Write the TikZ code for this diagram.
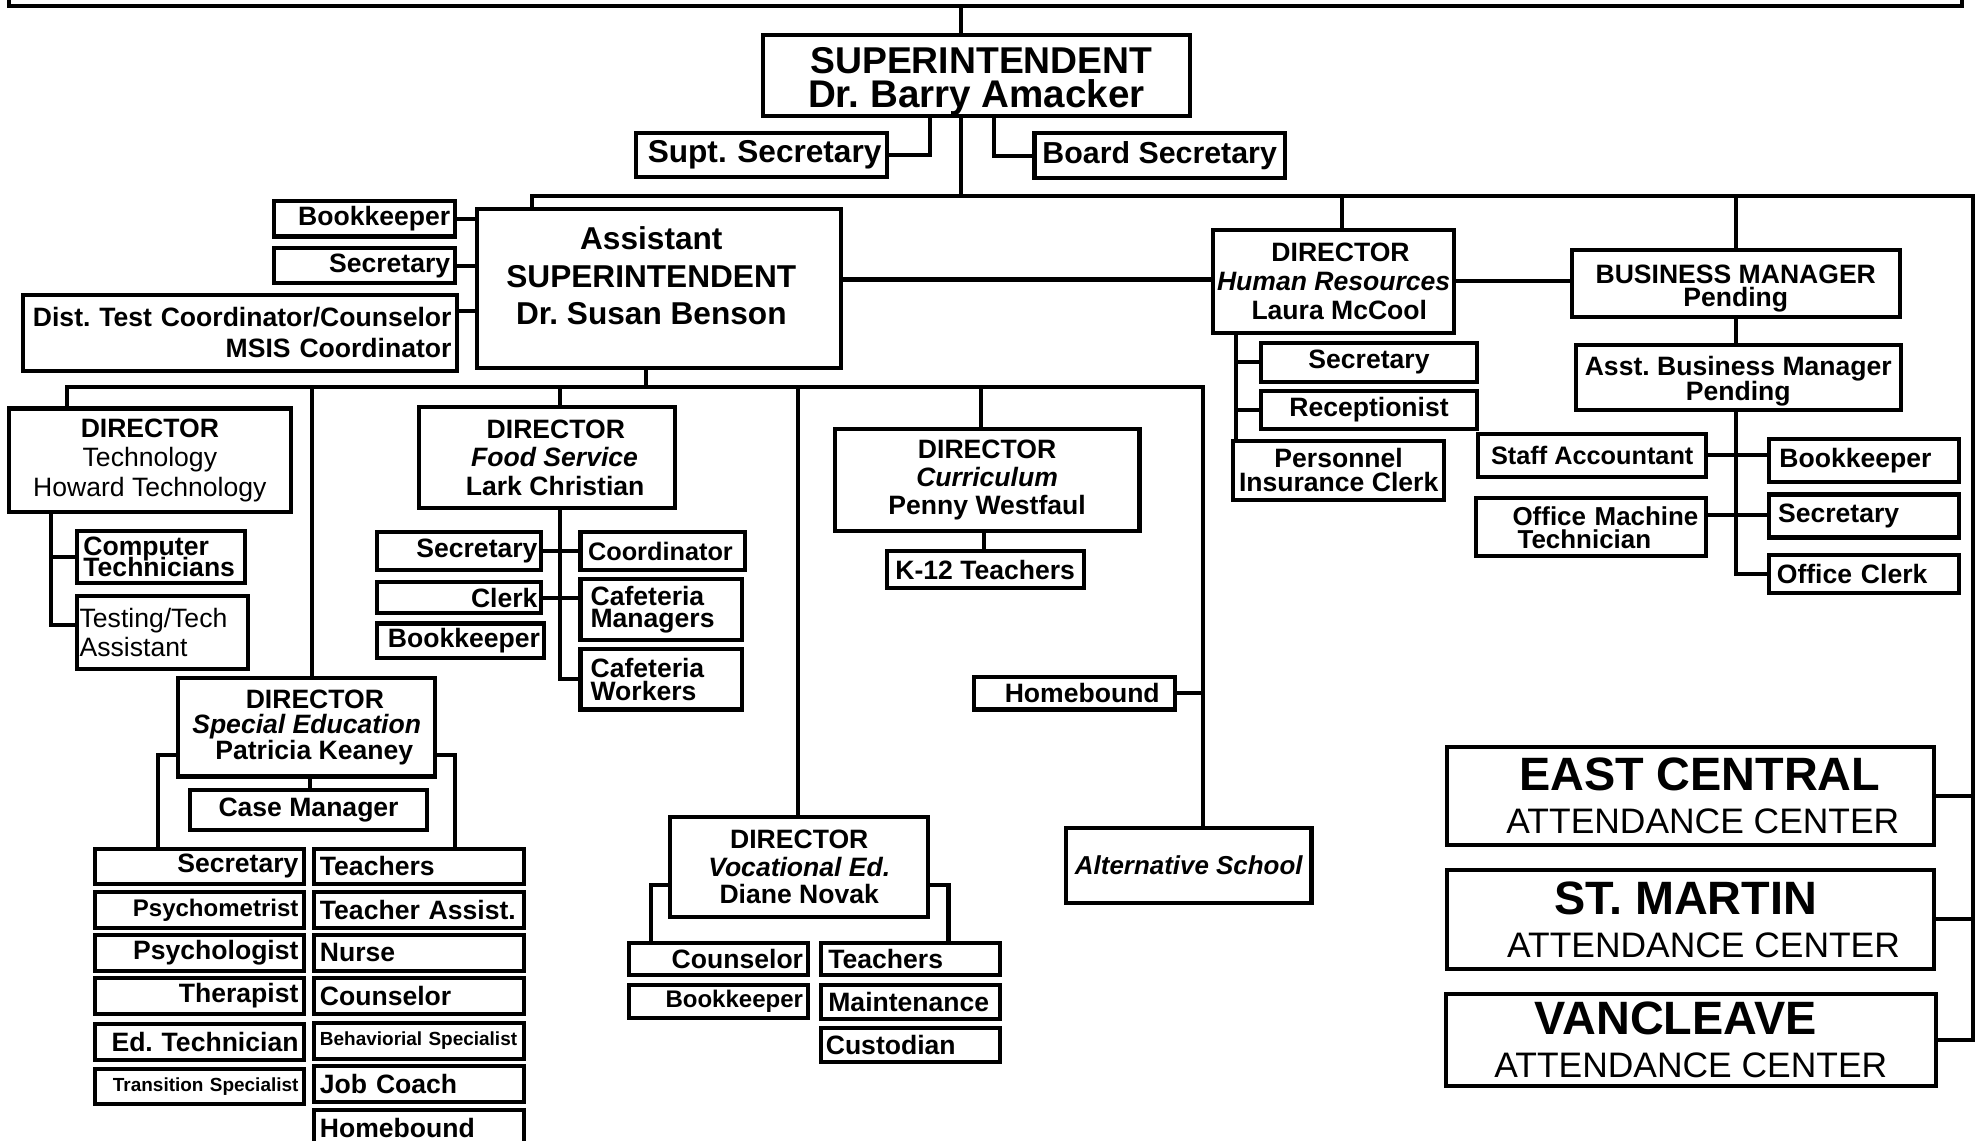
\documentclass[tikz,border=0pt]{standalone}
\usepackage{fontspec}
\setmainfont{Liberation Sans}
\frenchspacing
\newcommand\setsz[2]{\fontsize{#1}{#2}\selectfont\lineskiplimit=-100pt\relax}
\begin{document}
\begin{tikzpicture}[x=1pt,y=-1pt,line width=3.2pt,
    box/.style={draw,line width=3.2pt,inner sep=0pt,align=center,font=\setsz{21}{21}\bfseries}]
  \useasboundingbox (0,0) rectangle (1568,902);

  \node[box,minimum width=1544,minimum height=45] (board) at (779,-17.5) {};
  \node[box,minimum width=338,minimum height=63,font=\setsz{29.5}{27}\bfseries] (sup) at (772,59.5)
    {\rule{0pt}{31pt}\hspace*{8pt}SUPERINTENDENT\\{\setsz{30.5}{27}Dr. Barry Amacker}};
  \node[box,minimum width=198,minimum height=35,text width=190,align=right,font=\setsz{25}{25}\bfseries] (supsec) at (602,122.5) {Supt. Secretary};
  \node[box,minimum width=198,minimum height=36,font=\setsz{24}{24}\bfseries] (brdsec) at (917,123) {Board Secretary};

  \node[box,minimum width=288,minimum height=126] (asup) at (521,228) {};
  \node[font=\setsz{25}{29.5}\bfseries,align=center] (asuptxt) at (515,218) {Assistant\\SUPERINTENDENT\\Dr. Susan Benson};
  \node[box,minimum width=143,minimum height=28,text width=135,align=right] (abook) at (288.5,173) {Bookkeeper};
  \node[box,minimum width=143,minimum height=28,text width=135,align=right] (asec) at (288.5,210) {Secretary};
  \node[box,minimum width=343,minimum height=60,text width=335,align=right,font=\setsz{21}{25}\bfseries] (atest) at (189.5,263)
    {Dist. Test Coordinator/Counselor\\MSIS Coordinator};

  \node[box,minimum width=191,minimum height=81,font=\setsz{21}{23}\bfseries] (hr) at (1054.5,222.5)
    {\hspace*{11pt}DIRECTOR\\\textit{Human Resources}\\\hspace*{9pt}Laura McCool};
  \node[box,minimum width=171,minimum height=31] (hrsec) at (1082.5,286.5) {Secretary};
  \node[box,minimum width=171,minimum height=30] (recep) at (1082.5,324) {Receptionist};
  \node[box,minimum width=167,minimum height=46,font=\setsz{21}{19}\bfseries] (pic) at (1058.5,372) {Personnel\\Insurance Clerk};

  \node[box,minimum width=259,minimum height=53,font=\setsz{21}{18}\bfseries] (bm) at (1372.5,224.5) {\rule{0pt}{22pt}BUSINESS MANAGER\\Pending};
  \node[box,minimum width=257,minimum height=51,font=\setsz{21}{20}\bfseries] (abm) at (1374.5,298.5) {\rule{0pt}{21pt}Asst. Business Manager\\Pending};
  \node[box,minimum width=180,minimum height=34,font=\setsz{20}{20}\bfseries] (staffacc) at (1259,360) {Staff Accountant};
  \node[box,minimum width=182,minimum height=46,text width=174,align=left,font=\setsz{20.5}{18}\bfseries] (omt) at (1258,417)
    {\hspace*{25pt}Office Machine\\\hspace*{29pt}Technician};
  \node[box,minimum width=150,minimum height=34,text width=134,align=left] (bmbook) at (1474,364) {Bookkeeper};
  \node[box,minimum width=150,minimum height=34,text width=136,align=left] (bmsec) at (1474,408) {Secretary};
  \node[box,minimum width=150,minimum height=30,text width=138,align=left] (offclerk) at (1474,454) {Office Clerk};

  \node[box,minimum width=223,minimum height=82,font=\setsz{21}{23.5}] (tech) at (118.5,364) {\textbf{DIRECTOR}\\Technology\\Howard Technology};
  \node[box,minimum width=133,minimum height=41,text width=123,align=left,font=\setsz{21}{16.5}\bfseries] (comptech) at (127.5,440.5) {Computer\\Technicians};
  \node[box,minimum width=135,minimum height=58,text width=131,align=left,font=\setsz{21}{23}] (testing) at (128.5,500) {Testing/Tech\\Assistant};

  \node[box,minimum width=203,minimum height=80,font=\setsz{21}{22.5}\bfseries] (food) at (432.5,362)
    {\hspace*{14pt}DIRECTOR\\\hspace*{12pt}\textit{Food Service}\\\hspace*{13pt}Lark Christian};
  \node[box,minimum width=130,minimum height=30,text width=124,align=right] (fsec) at (363,436) {Secretary};
  \node[box,minimum width=130,minimum height=25,text width=124,align=right] (fclerk) at (363,472.5) {Clerk};
  \node[box,minimum width=132,minimum height=27,text width=126,align=right] (fbook) at (364,506.5) {Bookkeeper};
  \node[box,minimum width=130,minimum height=30,text width=118,align=left,font=\setsz{20}{20}\bfseries] (coord) at (524,436) {Coordinator};
  \node[box,minimum width=128,minimum height=48,text width=112,align=left,font=\setsz{21}{18}\bfseries] (cafman) at (523,482) {Cafeteria\\Managers};
  \node[box,minimum width=128,minimum height=48,text width=112,align=left,font=\setsz{21}{18}\bfseries] (cafwork) at (523,537) {Cafeteria\\Workers};

  \node[box,minimum width=241,minimum height=81,font=\setsz{21}{22.5}\bfseries] (curr) at (780.5,379.5) {DIRECTOR\\\textit{Curriculum}\\Penny Westfaul};
  \node[box,minimum width=156,minimum height=29] (k12) at (779,450.5) {K-12 Teachers};
  \node[box,minimum width=159,minimum height=26,text width=135,align=right] (hmbd) at (849.5,548) {Homebound};
  \node[box,minimum width=194,minimum height=59,font=\setsz{20.5}{21}\bfseries\itshape] (alt) at (940,684.5) {Alternative School};

  \node[box,minimum width=203,minimum height=78,font=\setsz{21}{20}\bfseries] (sped) at (242.5,575)
    {\hspace*{13pt}DIRECTOR\\\textit{Special Education}\\\hspace*{12pt}Patricia Keaney};
  \node[box,minimum width=188,minimum height=31] (caseman) at (244,640.5) {Case Manager};
  \foreach \k/\yc/\fsz/\txt in {1/685/21/Secretary,2/719.5/19/Psychometrist,3/753.5/21/Psychologist,
      4/787.5/21/Therapist,5/824/21/Ed. Technician,6/859/15/Transition Specialist}
    \node[box,minimum width=165,minimum height=28,text width=157,align=right,font=\setsz{\fsz}{\fsz}\bfseries] (sl\k) at (157.5,\yc) {\txt};
  \foreach \k/\yc/\fsz/\txt in {1/685/21/Teachers,2/719.5/21/Teacher Assist.,3/753.5/21/Nurse,4/787.5/21/Counselor,
      5/823/15/Behaviorial Specialist,6/857/21/Job Coach,7/892/21/Homebound}
    \node[box,minimum width=166,minimum height=28,text width=156,align=left,font=\setsz{\fsz}{\fsz}\bfseries] (sr\k) at (331,\yc) {\txt};

  \node[box,minimum width=204,minimum height=79,font=\setsz{21}{22}\bfseries] (voc) at (632,685.5) {DIRECTOR\\\textit{Vocational Ed.}\\Diane Novak};
  \node[box,minimum width=142,minimum height=25,text width=134,align=right] (vcouns) at (568,758.5) {Counselor};
  \node[box,minimum width=142,minimum height=26,text width=134,align=right,font=\setsz{19}{19}\bfseries] (vbook) at (568,792) {Bookkeeper};
  \node[box,minimum width=142,minimum height=25,text width=130,align=left] (vteach) at (720,758.5) {Teachers};
  \node[box,minimum width=142,minimum height=27,text width=130,align=left] (maint) at (720,792.5) {Maintenance};
  \node[box,minimum width=142,minimum height=27,text width=134,align=left] (cust) at (720,826.5) {Custodian};

  \node[box,minimum width=385,minimum height=77,font=\setsz{37}{34}\bfseries] (ec) at (1336.5,629.5)
    {\hspace*{15pt}EAST CENTRAL\\{\setsz{28}{34}\mdseries\hspace*{20pt}ATTENDANCE CENTER}};
  \node[box,minimum width=385,minimum height=78,font=\setsz{37}{34}\bfseries] (sm) at (1336.5,727)
    {ST. MARTIN\hspace*{7pt}\\{\setsz{28}{34}\mdseries\hspace*{21pt}ATTENDANCE CENTER}};
  \node[box,minimum width=388,minimum height=73,font=\setsz{37}{34}\bfseries] (vc) at (1337,822.5)
    {VANCLEAVE\hspace*{24pt}\\{\setsz{28}{34}\mdseries ATTENDANCE CENTER}};

  \draw (760,0 |- board.south) -- (760,0 |- sup.north);
  \draw (760,0 |- sup.south) -- (760,155);
  \draw (735,0 |- sup.south) |- (supsec.east);
  \draw (786,0 |- sup.south) |- (brdsec.west);
  \draw (421,0 |- asup.north) |- (1560,155) |- (vc.east);
  \draw (1061,155) -- (1061,0 |- hr.north);
  \draw (1373,155) -- (1373,0 |- bm.north);
  \draw (ec.east) -- (1560,0 |- ec.east);
  \draw (sm.east) -- (1560,0 |- sm.east);
  \draw (abook.east) -- (asup.west |- abook.east);
  \draw (asec.east) -- (asup.west |- asec.east);
  \draw (atest.east |- 0,246) -- (asup.west |- 0,246);
  \draw (asup.east |- 0,221) -- (hr.west |- 0,221);
  \draw (hr.east |- 0,222) -- (bm.west |- 0,222);
  \draw (1373,0 |- bm.south) -- (1373,0 |- abm.north);
  \draw (1373,0 |- abm.south) |- (offclerk.west);
  \draw (staffacc.east) -- (bmbook.west |- staffacc.east);
  \draw (omt.east |- 0,407) -- (bmsec.west |- 0,407);
  \draw (977,0 |- hr.south) -- (977,0 |- pic.north);
  \draw (977,0 |- hrsec.west) -- (hrsec.west);
  \draw (977,0 |- recep.west) -- (recep.west);
  \draw (511,0 |- asup.south) -- (511,306);
  \draw (53,0 |- tech.north) |- (951,306) -- (951,0 |- alt.north);
  \draw (247,306) -- (247,0 |- sped.north);
  \draw (443,306) -- (443,0 |- food.north);
  \draw (631,306) -- (631,0 |- voc.north);
  \draw (776,306) -- (776,0 |- curr.north);
  \draw (hmbd.east) -- (951,0 |- hmbd.east);
  \draw (778,0 |- curr.south) -- (778,0 |- k12.north);
  \draw (40,0 |- tech.south) |- (testing.west |- 0,494);
  \draw (40,0 |- comptech.west) -- (comptech.west);
  \draw (443,0 |- food.south) |- (cafwork.west);
  \draw (fsec.east) -- (coord.west);
  \draw (fclerk.east) -- (cafman.west |- fclerk.east);
  \draw (sped.west |- 0,597) -| (125,0 |- sl1.north);
  \draw (sped.east |- 0,597) -| (360,0 |- sr1.north);
  \draw (245,0 |- sped.south) -- (245,0 |- caseman.north);
  \draw (voc.west |- 0,700) -| (515,0 |- vcouns.north);
  \draw (voc.east |- 0,700) -| (750,0 |- vteach.north);
\end{tikzpicture}
\end{document}
